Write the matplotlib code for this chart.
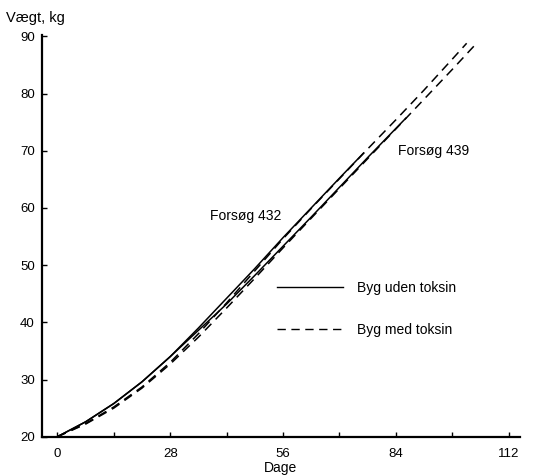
import matplotlib
matplotlib.use("Agg")
import matplotlib.pyplot as plt
from matplotlib.lines import Line2D

plt.rcParams['font.family'] = ['Liberation Sans', 'DejaVu Sans']

# Forsøg 432 (upper/left pair)
days_432_uden = [0, 7, 14, 21, 28, 35, 42, 49, 56, 63, 70, 76]
kg_432_uden = [20.0, 22.6, 25.8, 29.6, 34.0, 39.0, 44.2, 49.4, 54.8, 60.0, 65.2, 69.6]
days_432_med = [0, 7, 14, 21, 28, 35, 42, 49, 56, 63, 70, 77, 84, 91, 98, 101.6]
kg_432_med = [20.0, 22.3, 25.2, 28.7, 33.0, 38.0, 43.4, 49.0, 54.6, 59.9, 65.1, 70.3, 75.4, 80.6, 86.0, 88.8]

# Forsøg 439 (lower/right pair)
days_439_uden = [0, 7, 14, 21, 28, 35, 42, 49, 56, 63, 70, 77, 86.5]
kg_439_uden = [20.0, 22.6, 25.8, 29.6, 34.0, 38.6, 43.2, 48.2, 53.3, 58.4, 63.6, 68.8, 75.7]
days_439_med = [0, 7, 14, 21, 28, 35, 42, 49, 56, 63, 70, 77, 84, 91, 98, 103.8]
kg_439_med = [20.0, 22.2, 25.0, 28.5, 32.7, 37.4, 42.5, 47.7, 53.0, 58.2, 63.4, 68.6, 73.8, 79.0, 84.2, 88.6]

x_major = [0, 28, 56, 84, 112]
x_minor = [14, 42, 70, 98]
y_ticks = [20, 30, 40, 50, 60, 70, 80, 90]

fig = plt.figure(figsize=(5.37, 4.76), dpi=100)
ax = fig.add_axes([0.0777, 0.0826, 0.8903, 0.8445])

dash = (0, (6, 4))
ax.plot(days_432_med, kg_432_med, color='black', lw=1.1, linestyle=dash)
ax.plot(days_439_med, kg_439_med, color='black', lw=1.1, linestyle=dash)
ax.plot(days_432_uden, kg_432_uden, color='black', lw=1.1)
ax.plot(days_439_uden, kg_439_uden, color='black', lw=1.1)

ax.text(46.8, 58.6, 'Forsøg 432', fontsize=10, ha='center', va='center')
ax.text(93.4, 69.9, 'Forsøg 439', fontsize=10, ha='center', va='center')

handles = [Line2D([], [], color='black', lw=1.0),
           Line2D([], [], color='black', lw=1.0, linestyle=dash)]
ax.legend(handles, ['Byg uden toksin', 'Byg med toksin'], frameon=False,
          loc='center left', bbox_to_anchor=(0.465, 0.318), fontsize=10,
          handlelength=4.8, handletextpad=1.0, labelspacing=2.0)

ax.set_xlim(-3.9, 114.8)
ax.set_ylim(20, 90.3)
ax.set_xticks(x_major)
ax.set_xticks(x_minor, minor=True)
ax.set_yticks(y_ticks)
ax.tick_params(axis='both', direction='in', length=3.5, width=1.0, labelsize=9.5)
ax.tick_params(axis='x', pad=8)
ax.tick_params(axis='y', pad=5)
ax.tick_params(axis='x', which='minor', direction='in', length=3.5, width=1.0)
ax.spines['top'].set_visible(False)
ax.spines['right'].set_visible(False)
ax.spines['left'].set_linewidth(1.6)
ax.spines['bottom'].set_linewidth(1.6)

ax.set_xlabel('Dage', fontsize=10, labelpad=1)
fig.text(0.012, 0.962, 'Vægt, kg', fontsize=10.5, ha='left', va='center')

fig.savefig('out.png', dpi=100)
